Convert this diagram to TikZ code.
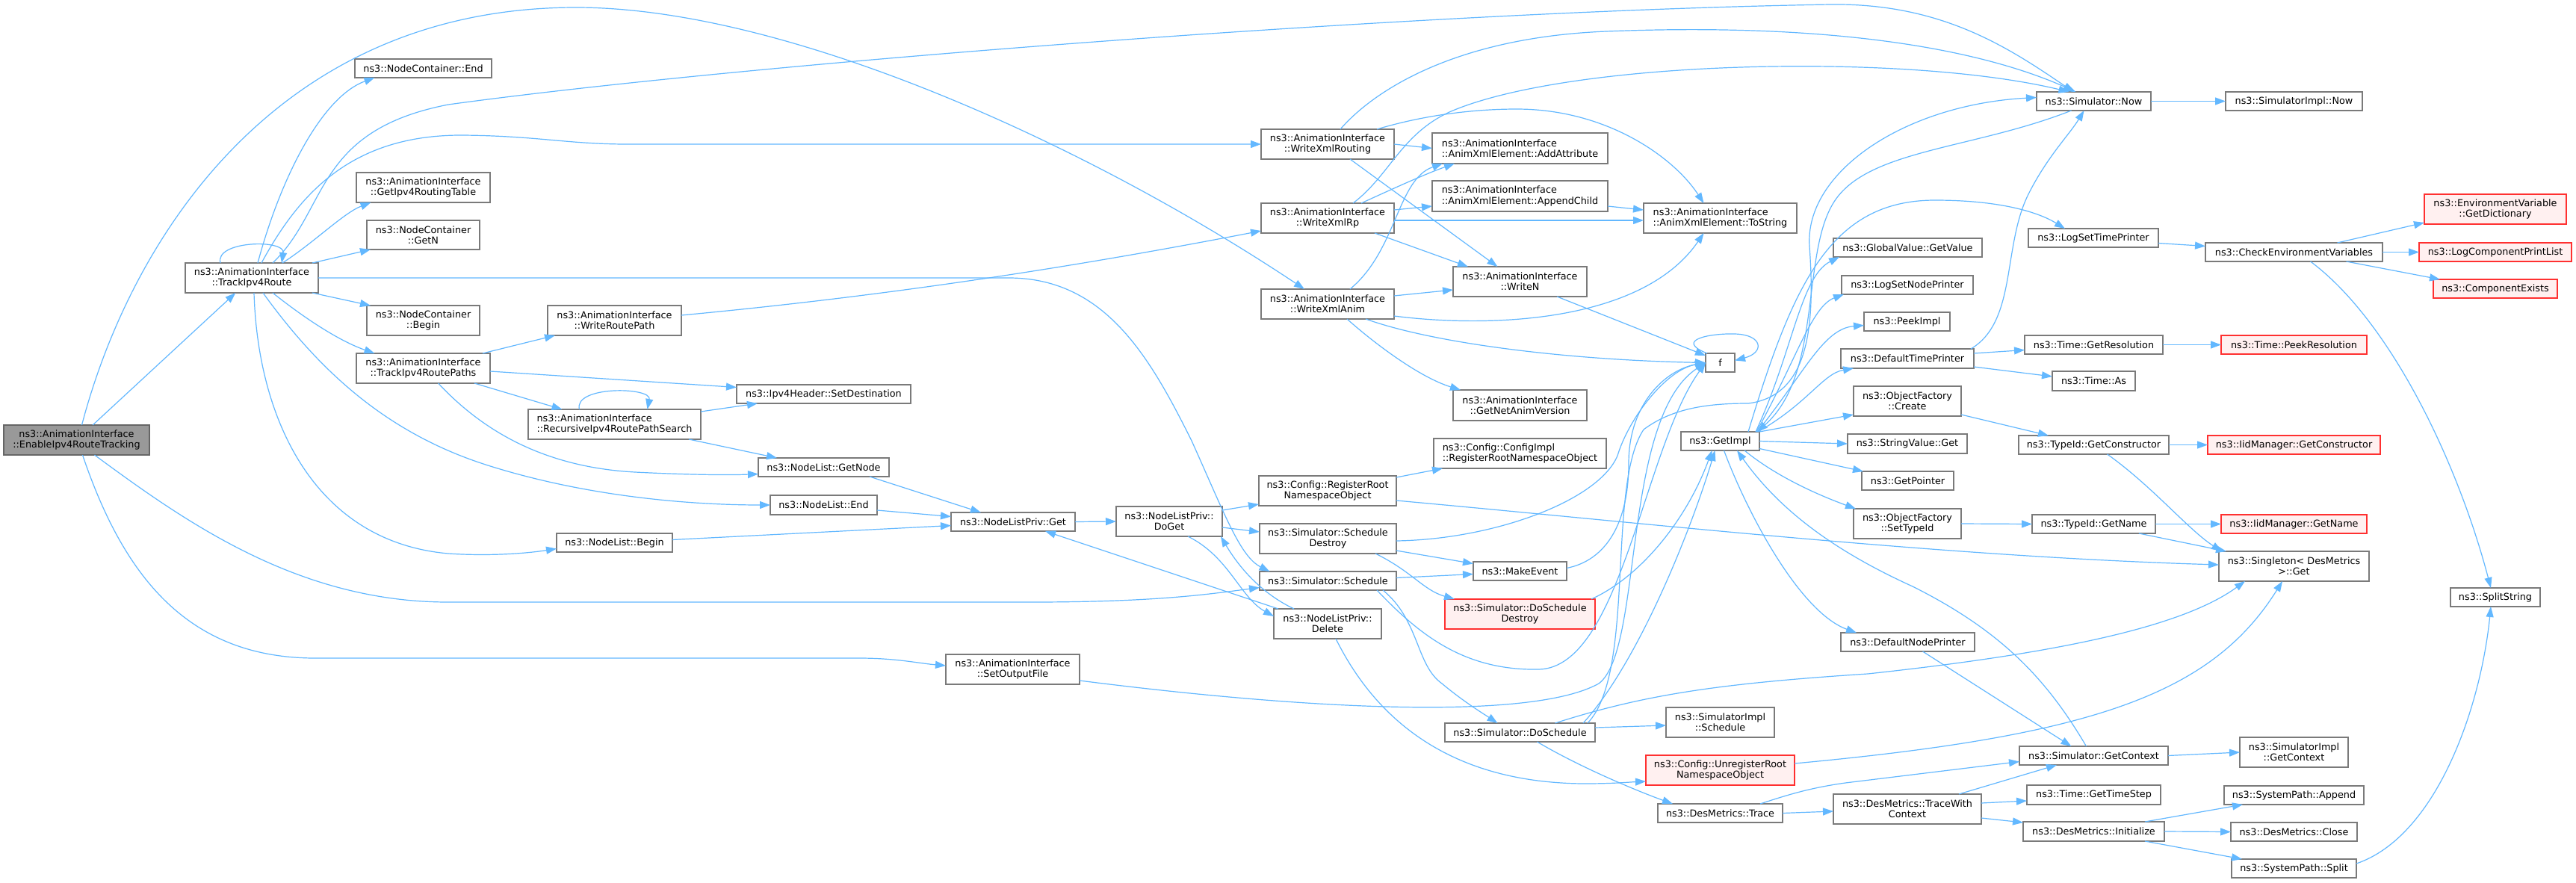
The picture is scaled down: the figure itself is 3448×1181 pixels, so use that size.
\documentclass[tikz,border=0pt]{standalone}
\usepackage{fontspec}
\setmainfont{DejaVu Sans}
\usetikzlibrary{arrows.meta}
\definecolor{edgeblue}{HTML}{63B8FF}
\definecolor{bordergray}{HTML}{7A7A7A}
\definecolor{rootfill}{HTML}{999999}
\definecolor{rootborder}{HTML}{666666}
\definecolor{redfill}{HTML}{FFF0F0}
\definecolor{redborder}{HTML}{FF3030}
\newcommand\nodefont{\fontsize{12.8}{14.2}\selectfont}
\tikzset{
  box/.style={draw=bordergray, fill=white, line width=1.3pt, inner sep=1pt, outer sep=0pt, font=\nodefont, align=center},
  lbox/.style={align=left},
  rbox/.style={draw=redborder, fill=redfill},
  rootbox/.style={draw=rootborder, fill=rootfill},
  call/.style={draw=edgeblue, line width=1.2pt, -{Triangle[length=14pt,width=10pt]}},
}
\newcommand\bx[7][]{\node[box,#1,minimum width={(#4-#2)*1pt},minimum height={(#5-#3)*1pt}] (#6) at ({(#2+#4)/2},{(#3+#5)/2}) {#7};}
\begin{document}
\begin{tikzpicture}[x=1pt,y=-1pt]
\useasboundingbox (0,0) rectangle (3448,1181);
\fill[white] (0,0) rectangle (3448,1181);
% nodes
\bx[rootbox]{5}{569}{200}{609}{E}{ns3::AnimationInterface\\::EnableIpv4RouteTracking}
\bx{248}{352}{426}{392}{TR}{ns3::AnimationInterface\\::TrackIpv4Route}
\bx{475}{79}{658}{104}{NCE}{ns3::NodeContainer::End}
\bx{477}{231}{656}{271}{GRT}{ns3::AnimationInterface\\::GetIpv4RoutingTable}
\bx{491}{295}{642}{334}{NCN}{ns3::NodeContainer\\::GetN}
\bx{491}{409}{642}{449}{NCB}{ns3::NodeContainer\\::Begin}
\bx{477}{473}{656}{513}{TRP}{ns3::AnimationInterface\\::TrackIpv4RoutePaths}
\bx{733}{409}{912}{449}{WRP}{ns3::AnimationInterface\\::WriteRoutePath}
\bx[lbox]{707}{548}{938}{588}{RS}{ns3::AnimationInterface\\::RecursiveIpv4RoutePathSearch}
\bx{986}{515}{1219}{540}{SD}{ns3::Ipv4Header::SetDestination}
\bx{1015}{613}{1190}{638}{GN}{ns3::NodeList::GetNode}
\bx{1031}{663}{1174}{689}{NLE}{ns3::NodeList::End}
\bx{745}{714}{900}{739}{NLB}{ns3::NodeList::Begin}
\bx{1273}{686}{1439}{711}{NPG}{ns3::NodeListPriv::Get}
\bx{1494}{678}{1636}{718}{DG}{ns3::NodeListPriv::\\DoGet}
\bx{1266}{876}{1445}{916}{SOF}{ns3::AnimationInterface\\::SetOutputFile}
\bx{1685}{637}{1869}{677}{CRR}{ns3::Config::RegisterRoot\\NamespaceObject}
\bx{1686}{701}{1869}{741}{SSD}{ns3::Simulator::Schedule\\Destroy}
\bx{1686}{765}{1869}{790}{SS}{ns3::Simulator::Schedule}
\bx{1705}{815}{1849}{855}{DEL}{ns3::NodeListPriv::\\Delete}
\bx{1688}{173}{1866}{213}{WXR}{ns3::AnimationInterface\\::WriteXmlRouting}
\bx{1688}{272}{1866}{312}{WXI}{ns3::AnimationInterface\\::WriteXmlRp}
\bx{1688}{387}{1866}{427}{WXA}{ns3::AnimationInterface\\::WriteXmlAnim}
\bx[lbox]{1917}{178}{2152}{219}{AA}{ns3::AnimationInterface\\::AnimXmlElement::AddAttribute}
\bx[lbox]{1917}{242}{2152}{283}{AC}{ns3::AnimationInterface\\::AnimXmlElement::AppendChild}
\bx[lbox]{2200}{272}{2405}{312}{TS}{ns3::AnimationInterface\\::AnimXmlElement::ToString}
\bx{1945}{357}{2124}{397}{WN}{ns3::AnimationInterface\\::WriteN}
\bx{1945}{522}{2124}{563}{GNAV}{ns3::AnimationInterface\\::GetNetAnimVersion}
\bx{2283}{473}{2322}{498}{F}{f}
\bx[lbox]{1919}{587}{2150}{627}{CIR}{ns3::Config::ConfigImpl\\::RegisterRootNamespaceObject}
\bx{2250}{578}{2355}{603}{GI}{ns3::GetImpl}
\bx{1972}{752}{2097}{777}{ME}{ns3::MakeEvent}
\bx[rbox]{1934}{802}{2135}{842}{DSD}{ns3::Simulator::DoSchedule\\Destroy}
\bx{1934}{968}{2135}{993}{DS}{ns3::Simulator::DoSchedule}
\bx{2230}{947}{2375}{987}{SIS}{ns3::SimulatorImpl\\::Schedule}
\bx[rbox]{2203}{1011}{2402}{1051}{UR}{ns3::Config::UnregisterRoot\\NamespaceObject}
\bx{2219}{1076}{2386}{1101}{TRC}{ns3::DesMetrics::Trace}
\bx{2726}{123}{2879}{148}{NOW}{ns3::Simulator::Now}
\bx{2454}{319}{2653}{344}{GV}{ns3::GlobalValue::GetValue}
\bx{2465}{369}{2641}{394}{LSNP}{ns3::LogSetNodePrinter}
\bx{2495}{418}{2610}{443}{PI}{ns3::PeekImpl}
\bx{2464}{467}{2642}{493}{DTP}{ns3::DefaultTimePrinter}
\bx{2481}{517}{2625}{557}{OFC}{ns3::ObjectFactory\\::Create}
\bx{2473}{581}{2633}{607}{SVG}{ns3::StringValue::Get}
\bx{2715}{306}{2889}{331}{LSTP}{ns3::LogSetTimePrinter}
\bx{2710}{449}{2895}{474}{TGR}{ns3::Time::GetResolution}
\bx{2747}{497}{2858}{523}{TAS}{ns3::Time::As}
\bx{2702}{583}{2903}{608}{TGC}{ns3::TypeId::GetConstructor}
\bx{2492}{631}{2615}{656}{GP}{ns3::GetPointer}
\bx{2481}{681}{2625}{721}{OFS}{ns3::ObjectFactory\\::SetTypeId}
\bx{2720}{689}{2885}{714}{TGN}{ns3::TypeId::GetName}
\bx{2464}{847}{2643}{872}{DNP}{ns3::DefaultNodePrinter}
\bx{2703}{999}{2902}{1024}{SGC}{ns3::Simulator::GetContext}
\bx{2454}{1063}{2652}{1103}{TWC}{ns3::DesMetrics::TraceWith\\Context}
\bx{2713}{1051}{2892}{1077}{TGT}{ns3::Time::GetTimeStep}
\bx{2708}{1100}{2897}{1126}{DMI}{ns3::DesMetrics::Initialize}
\bx{2979}{123}{3162}{148}{SIN}{ns3::SimulatorImpl::Now}
\bx{2952}{325}{3189}{350}{CEV}{ns3::CheckEnvironmentVariables}
\bx[rbox]{3245}{260}{3435}{300}{EGD}{ns3::EnvironmentVariable\\::GetDictionary}
\bx[rbox]{3238}{325}{3442}{350}{LCPL}{ns3::LogComponentPrintList}
\bx[rbox]{3257}{374}{3423}{399}{CE}{ns3::ComponentExists}
\bx[rbox]{2973}{449}{3168}{474}{TPR}{ns3::Time::PeekResolution}
\bx[rbox]{2955}{583}{3186}{608}{IGC}{ns3::IidManager::GetConstructor}
\bx[rbox]{2973}{689}{3168}{714}{IGN}{ns3::IidManager::GetName}
\bx{2970}{738}{3171}{778}{SGL}{ns3::Singleton< DesMetrics\\>::Get}
\bx{3280}{787}{3400}{812}{SPS}{ns3::SplitString}
\bx{2998}{987}{3143}{1027}{SIGC}{ns3::SimulatorImpl\\::GetContext}
\bx{2977}{1052}{3164}{1077}{SPA}{ns3::SystemPath::Append}
\bx{2986}{1101}{3155}{1126}{DMC}{ns3::DesMetrics::Close}
\bx{2987}{1150}{3154}{1175}{SPL}{ns3::SystemPath::Split}
% edges from EnableIpv4RouteTracking
\draw[call] (E) -- (TR);
\draw[call] ([xshift=7pt]E.north) .. controls (175,320) and (370,10) .. (771,10) .. controls (1050,10) and (1450,190) .. ([xshift=58pt]WXA.north west);
\draw[call] ([xshift=24pt]E.south) .. controls (250,700) and (400,806) .. (600,806) -- (1380,806) .. controls (1550,806) and (1620,795) .. ([yshift=-9pt]SS.west);
\draw[call] ([xshift=8pt]E.south) .. controls (165,770) and (250,880) .. (420,881) -- (1150,881) .. controls (1200,881) and (1230,888) .. ([yshift=5pt]SOF.west);
% TrackIpv4Route
\draw[call] ([xshift=-42pt]TR.north) .. controls ([xshift=-50pt,yshift=30pt]TR.north) and ([xshift=45pt,yshift=32pt]TR.north) .. ([xshift=40pt]TR.north);
\draw[call] ([xshift=8pt]TR.north) .. controls (375,240) and (430,130) .. ([xshift=-65pt]NCE.south);
\draw[call] ([xshift=28pt]TR.north) .. controls (440,280) and (420,175) .. (600,140) .. controls (1000,85) and (1900,15) .. (2450,6) .. controls (2600,4) and (2690,65) .. ([xshift=-27pt]NOW.north);
\draw[call] ([xshift=13pt]TR.north) .. controls (400,260) and (470,180) .. (620,181) .. controls (720,182) and (760,193) .. (840,193) -- (WXR.west);
\draw[call] ([xshift=41pt]TR.north) .. controls (420,325) and (460,285) .. ([xshift=-70pt]GRT.south);
\draw[call] ([xshift=-8pt]TR.north east) -- ([xshift=5pt]NCN.south west);
\draw[call] (TR.east) -- (1350,372) .. controls (1480,372) and (1540,480) .. (1595,590) .. controls (1640,690) and (1660,745) .. ([xshift=-78pt]SS.north);
\draw[call] ([xshift=-8pt]TR.south east) -- ([xshift=5pt]NCB.north west);
\draw[call] ([xshift=28pt]TR.south) .. controls (400,420) and (450,455) .. ([xshift=-65pt]TRP.north);
\draw[call] ([xshift=3pt]TR.south) .. controls (345,560) and (420,725) .. (600,741) .. controls (660,745) and (710,740) .. ([yshift=-8pt]NLB.west);
\draw[call] ([xshift=15pt]TR.south) .. controls (430,500) and (520,580) .. (650,622) .. controls (800,670) and (950,676) .. (NLE.west);
% TrackIpv4RoutePaths and co
\draw[call] ([xshift=-10pt]TRP.north east) -- ([xshift=10pt]WRP.south west);
\draw[call] ([yshift=-4pt]TRP.east) -- ([yshift=9pt]SD.west);
\draw[call] ([xshift=-21pt]TRP.south east) -- ([xshift=-70pt]RS.north);
\draw[call] ([xshift=20pt]TRP.south) .. controls (640,570) and (720,625) .. (850,632) .. controls (930,636) and (980,636) .. ([yshift=-9pt]GN.west);
\draw[call] ([xshift=-47pt]RS.north) .. controls ([xshift=-55pt,yshift=32pt]RS.north) and ([xshift=50pt,yshift=30pt]RS.north) .. ([xshift=44pt]RS.north);
\draw[call] ([yshift=-3pt]RS.north east) -- ([xshift=28pt]SD.south west);
\draw[call] ([xshift=-16pt]RS.south east) -- ([xshift=25pt]GN.north west);
\draw[call] ([yshift=7pt]WRP.east) .. controls (1200,395) and (1450,355) .. ([yshift=3pt]WXI.south west);
% NodeList
\draw[call] ([xshift=-26pt]GN.south east) -- ([xshift=40pt]NPG.north west);
\draw[call] ([yshift=-7pt]NLE.east) -- ([yshift=7pt]NPG.west);
\draw[call] ([yshift=4pt]NLB.east) -- ([yshift=-5pt]NPG.west);
\draw[call] (NPG.east) -- (DG.west);
\draw[call] ([yshift=15pt]DG.east) -- ([yshift=-18pt]CRR.west);
\draw[call] ([yshift=-8pt]DG.east) -- ([yshift=9pt]SSD.west);
\draw[call] ([xshift=25pt]DG.south) .. controls (1645,745) and (1660,800) .. ([yshift=10pt]DEL.west);
\draw[call] ([xshift=27pt]DEL.north west) .. controls (1690,795) and (1660,762) .. ([xshift=-2pt]DG.south east);
\draw[call] ([xshift=6pt]DEL.north west) -- ([xshift=43pt]NPG.south);
\draw[call] ([xshift=11pt]DEL.south) .. controls (1850,980) and (1960,1048) .. (2120,1049) .. controls (2160,1049) and (2180,1047) .. ([yshift=-15pt]UR.west);
% into f
\draw[call] ([yshift=-15pt]SOF.east) .. controls (1750,950) and (2050,965) .. (2140,915) .. controls (2200,870) and (2170,560) .. (F.west);
\draw[call] ([xshift=-26pt]SS.south east) .. controls (1900,850) and (1960,898) .. (2060,896) .. controls (2170,893) and (2200,600) .. (F.west);
\draw[call] ([yshift=-3pt]SSD.east) .. controls (2000,722) and (2140,670) .. (2165,610) .. controls (2180,560) and (2230,495) .. (F.west);
\draw[call] ([yshift=4pt]ME.east) .. controls (2150,750) and (2180,700) .. (2180,620) .. controls (2180,540) and (2230,495) .. (F.west);
% Simulator
\draw[call] ([xshift=-18pt]SS.south east) .. controls (1900,830) and (1895,890) .. (1930,915) .. controls (1960,940) and (1985,955) .. ([xshift=-30pt]DS.north);
\draw[call] ([yshift=4pt]SS.east) -- ([yshift=-4pt]ME.west);
\draw[call] ([yshift=-16pt]SSD.east) -- ([yshift=10pt]ME.west);
\draw[call] ([xshift=-28pt]SSD.south east) .. controls (1890,765) and (1905,790) .. ([xshift=13pt]DSD.north west);
\draw[call] ([xshift=-5pt]DSD.north east) .. controls (2200,770) and (2260,690) .. ([xshift=-11pt]GI.south);
\draw[call] ([xshift=-16pt]DS.north east) .. controls (2190,890) and (2260,720) .. ([xshift=-7pt]GI.south);
\draw[call] ([xshift=-10pt]DS.north east) .. controls (2190,900) and (2150,650) .. (2200,575) .. controls (2240,545) and (2290,540) .. (2340,540) .. controls (2420,530) and (2430,440) .. (2422,330) .. controls (2415,230) and (2550,140) .. ([yshift=5pt]NOW.west);
\draw[call] ([xshift=47pt]DS.north) .. controls (2200,930) and (2300,915) .. (2500,902) .. controls (2750,875) and (2920,840) .. ([xshift=35pt]SGL.south west);
\draw[call] ([yshift=6.5pt]DS.east) -- ([yshift=-4pt]SIS.west);
\draw[call] ([xshift=23pt]DS.south) .. controls (2120,1030) and (2200,1062) .. ([xshift=20pt]TRC.north west);
\draw[call] ([yshift=9pt]UR.east) .. controls (2800,985) and (2960,930) .. ([xshift=85pt]SGL.south west);
% DesMetrics
\draw[call] ([xshift=-30pt]TRC.north east) .. controls (2390,1065) and (2420,1055) .. (2470,1048) -- ([yshift=-8pt]SGC.west);
\draw[call] (TRC.east) -- ([yshift=-3pt]TWC.west);
\draw[call] ([xshift=-30pt]TWC.north east) -- ([xshift=50pt]SGC.south west);
\draw[call] ([yshift=8pt]TWC.east) -- ([yshift=-8pt]TGT.west);
\draw[call] ([yshift=-12pt]TWC.east) -- ([yshift=12pt]DMI.west);
\draw[call] ([xshift=-26pt]DMI.north east) -- ([xshift=25pt]SPA.south west);
\draw[call] (DMI.east) -- (DMC.west);
\draw[call] ([xshift=-26pt]DMI.south east) -- ([xshift=14pt]SPL.north west);
\draw[call] ([yshift=6.5pt]SPL.east) .. controls (3260,1120) and (3320,950) .. ([xshift=-6pt]SPS.south);
% environment
\draw[call] ([xshift=22pt]CEV.south) .. controls (3200,430) and (3290,620) .. ([xshift=-6pt]SPS.north);
\draw[call] ([xshift=58pt]CEV.north) -- ([yshift=2pt]EGD.south west);
\draw[call] (CEV.east) -- (LCPL.west);
\draw[call] ([xshift=70pt]CEV.south) -- ([xshift=9pt]CE.north west);
\draw[call] ([yshift=-7pt]LSTP.east) -- ([yshift=8pt]CEV.west);
% Now / GetImpl
\draw[call] (NOW.east) -- (SIN.west);
\draw[call] ([xshift=-30pt]NOW.south) .. controls (2640,200) and (2500,200) .. (2455,270) .. controls (2410,340) and (2440,500) .. ([xshift=-3pt]GI.north east);
\draw[call] ([xshift=-4pt]DTP.north east) .. controls (2700,430) and (2680,330) .. (2715,260) .. controls (2740,210) and (2770,180) .. ([xshift=-13pt]NOW.south);
\draw[call] ([yshift=7pt]DTP.east) -- ([yshift=-7pt]TGR.west);
\draw[call] ([yshift=-11pt]DTP.east) -- ([yshift=6pt]TAS.west);
\draw[call] ([xshift=-5pt]GI.north east) .. controls (2400,470) and (2410,370) .. ([xshift=8pt]GV.south west);
\draw[call] ([xshift=-4pt]GI.north east) .. controls (2405,480) and (2425,410) .. ([xshift=3pt]LSNP.south west);
\draw[call] ([xshift=-3pt]GI.north east) .. controls (2415,500) and (2440,440) .. ([yshift=-5pt]PI.west);
\draw[call] ([xshift=-2pt]GI.north east) .. controls (2420,540) and (2440,500) .. ([xshift=17pt]DTP.south west);
\draw[call] (GI.north east) -- ([yshift=-18pt]OFC.west);
\draw[call] (GI.east) -- (SVG.west);
\draw[call] ([yshift=-10pt]GI.east) -- ([xshift=2pt]GP.north west);
\draw[call] ([xshift=-20pt]GI.south east) .. controls (2380,640) and (2440,665) .. ([xshift=3pt]OFS.north west);
\draw[call] ([xshift=5pt]GI.south) .. controls (2340,690) and (2410,820) .. ([xshift=21pt]DNP.north west);
\draw[call] ([xshift=-15pt]GI.north east) .. controls (2400,380) and (2450,268) .. (2590,268) .. controls (2680,268) and (2730,285) .. ([xshift=49pt]LSTP.north west);
\draw[call] ([xshift=-10pt]SGC.north) .. controls (2740,910) and (2680,845) .. (2560,785) .. controls (2450,735) and (2380,680) .. ([xshift=-30pt]GI.south east);
\draw[call] ([xshift=20pt]DNP.south) -- ([xshift=-30pt]SGC.north);
\draw[call] (SGC.east) -- (SIGC.west);
\draw[call] ([yshift=-18pt]OFC.east) -- ([xshift=40pt]TGC.north west);
\draw[call] (OFS.east) -- (TGN.west);
\draw[call] (TGC.east) -- (IGC.west);
\draw[call] ([xshift=18pt]TGC.south) .. controls (2880,650) and (2930,710) .. ([xshift=4pt]SGL.north west);
\draw[call] (TGN.east) -- (IGN.west);
\draw[call] ([xshift=-22pt]TGN.south east) -- ([xshift=10pt]SGL.north west);
\draw[call] (TGR.east) -- (TPR.west);
\draw[call] ([yshift=-2pt]CRR.north east) -- ([xshift=12pt]CIR.south west);
\draw[call] ([yshift=-13pt]CRR.east) .. controls (2200,700) and (2600,745) .. ([yshift=2pt]SGL.west);
% AnimationInterface writers
\draw[call] ([xshift=17pt]WXR.north) .. controls (1840,120) and (1950,50) .. (2150,42) .. controls (2450,30) and (2650,65) .. ([xshift=-24pt]NOW.north);
\draw[call] (WXR.east) -- (AA.west);
\draw[call] ([xshift=30pt]WXR.south) -- ([xshift=-30pt]WN.north);
\draw[call] ([xshift=-23pt]WXR.north east) .. controls (1920,150) and (1990,146) .. (2030,146) .. controls (2150,146) and (2240,210) .. ([xshift=-22pt]TS.north);
\draw[call] ([xshift=34pt]WXI.north) .. controls (1860,235) and (1875,180) .. (1940,150) .. controls (2100,80) and (2550,70) .. ([xshift=-33pt]NOW.north);
\draw[call] ([xshift=45pt]WXI.north) .. controls (1870,250) and (1910,232) .. ([xshift=30pt]AA.south west);
\draw[call] ([yshift=11pt]WXI.east) -- ([yshift=-13.5pt]AC.west);
\draw[call] ([yshift=-3pt]WXI.east) -- ([yshift=-3pt]TS.west);
\draw[call] ([xshift=-26pt]WXI.south east) -- ([xshift=20pt]WN.north west);
\draw[call] ([xshift=30pt]WXA.north) .. controls (1870,335) and (1870,240) .. ([xshift=14pt]AA.south west);
\draw[call] ([yshift=11pt]WXA.east) -- ([yshift=-11pt]WN.west);
\draw[call] ([yshift=-16pt]WXA.east) .. controls (2000,440) and (2200,430) .. ([xshift=-22pt]TS.south);
\draw[call] ([xshift=-38pt]WXA.south east) .. controls (1920,460) and (2100,482) .. (F.west);
\draw[call] ([xshift=26pt]WXA.south) .. controls (1840,460) and (1900,505) .. ([xshift=10pt]GNAV.north west);
\draw[call] ([yshift=-13.5pt]AC.east) -- ([yshift=11pt]TS.west);
\draw[call] ([xshift=-40pt]WN.south east) -- ([yshift=-3pt]F.north west);
\draw[call] ([xshift=2pt]F.north west) .. controls (2240,455) and (2290,446) .. (2322,447) .. controls (2360,448) and (2362,472) .. ([yshift=3pt]F.east);
\end{tikzpicture}
\end{document}
